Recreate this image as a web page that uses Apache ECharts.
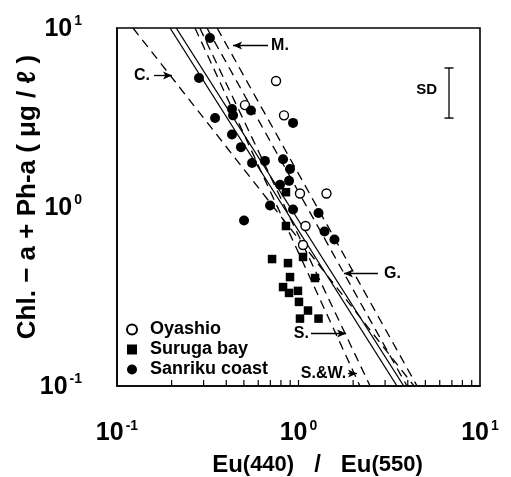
<!DOCTYPE html>
<html><head><meta charset="utf-8">
<script src="https://cdn.jsdelivr.net/npm/echarts@6/dist/echarts.min.js"></script>
<style>html,body{margin:0;padding:0;background:#fff}#c{width:511px;height:477px}</style>
</head><body><div id="c"></div>
<script>
// ---- data ----
const oyashio = [[0.752,5.06],[0.507,3.71],[0.832,3.25],[1.019,1.19],[1.426,1.19],[1.093,0.783],[1.059,0.613]];
const suruga = [[0.853,1.21],[0.853,0.783],[0.715,0.512],[0.875,0.486],[1.059,0.526],[0.898,0.406],[1.233,0.401],
  [0.822,0.357],[0.887,0.331],[0.993,0.340],[1.006,0.295],[1.128,0.264],[1.019,0.238],[1.289,0.238]];
const sanriku = [[0.325,8.79],[0.283,5.26],[0.347,3.14],[0.430,3.53],[0.436,3.25],[0.547,3.46],[0.933,2.95],
  [0.430,2.54],[0.482,2.16],[0.555,1.76],[0.653,1.81],[0.822,1.85],[0.898,1.63],[0.791,1.33],[0.887,1.40],
  [0.697,1.02],[0.933,0.968],[1.289,0.925],[0.501,0.841],[1.391,0.729],[1.578,0.658]];
// reference relations (two points each)
const lineC   = [[0.1225,10],[4.33,0.1]];
const lineM   = [[0.356,10],[4.50,0.1]];
const lineG   = [[0.313,10],[3.96,0.1]];
const lineS   = [[0.286,10],[2.48,0.1]];
const lineSW  = [[0.269,10],[2.18,0.1]];
const solidA  = [[0.196,10],[3.49,0.1]];
const solidB  = [[0.212,10],[3.80,0.1]];
// annotations
const annotText  = ['C.','M.','G.','S.','S.&W.'];
const annotAt    = [[0.152,5.43],[0.706,7.98],[2.96,0.425],[1.142,0.1965],[1.83,0.1174]];
const annotSide  = ['left','right','right','left','left'];
const arrowFrom  = [[0.160,5.43],[0.679,7.98],[2.74,0.425],[1.172,0.1965],[1.875,0.1174]];
const arrowTo    = [[0.201,5.43],[0.436,7.98],[1.78,0.425],[1.83,0.1965],[2.10,0.1174]];
const sdBar      = [[6.75,5.98],[6.75,3.14]];
const sdLabelAt  = [5.80,4.50];
const xMinorTicks = [0.2,0.3,0.4,0.5,0.6,0.7,0.8,0.9,1,2,3,4,5,6,7,8,9];
const decadeExp = {'0.1':'-1','1':'0','10':'1'};

const FONT = '"Liberation Sans", Arial, Helvetica, sans-serif';
const INK = '#000';
const chart = echarts.init(document.getElementById('c'));

function expLabel(v){
  const key = String(+v.toPrecision(3));
  const e = decadeExp[key] !== undefined ? decadeExp[key] : String(Math.round(Math.log10(v)));
  return '{b|10}{s|' + e + '}';
}
const tickRich = {
  b:{fontFamily:FONT,fontWeight:'bold',fontSize:25,color:INK,lineHeight:27,verticalAlign:'bottom',padding:[0,2,0,0]},
  s:{fontFamily:FONT,fontWeight:'bold',fontSize:14,color:INK,lineHeight:27,verticalAlign:'top'}
};
function refLine(name, pts, solid){
  return {type:'line', name:name, data:pts, symbol:'none', silent:true, z:1,
    lineStyle:{color:INK, width:1.3, type: solid ? 'solid' : [9,6], opacity:1}, animation:false};
}
const annotFont = {fontFamily:FONT, fontWeight:'bold', fontSize:16, color:INK};

const option = {
  animation:false,
  grid:{left:117, top:28, right:31, bottom:91, show:true, borderColor:INK, borderWidth:1.6,
    backgroundColor:'transparent', containLabel:false, outerBoundsMode:'none'},
  legend:{
    orient:'vertical', left:121, top:315, itemWidth:10, itemHeight:10, itemGap:1,
    data:['Oyashio','Suruga bay','Sanriku coast'],
    textStyle:{fontFamily:FONT, fontSize:18, fontWeight:'bold', color:INK, lineHeight:19, padding:[0,0,0,8]}, selectedMode:false
  },
  xAxis:{
    type:'log', logBase:10, min:0.1, max:10,
    name:'{e|Eu}{n|(440)}{e|   /   Eu}{n|(550)}', nameLocation:'middle', nameGap:67, nameMoveOverlap:false,
    nameTextStyle:{padding:[0,0,0,38], rich:{
      e:{fontFamily:FONT,fontWeight:'bold',fontSize:24,color:INK},
      n:{fontFamily:FONT,fontWeight:'bold',fontSize:22,color:INK}
    }},
    axisLine:{show:true,lineStyle:{color:INK,width:1.6}}, axisTick:{show:false}, splitLine:{show:false}, minorTick:{show:false},
    axisLabel:{formatter:expLabel, rich:tickRich, margin:33}
  },
  yAxis:{
    type:'log', logBase:10, min:0.1, max:10,
    name:'Chl. − a + Ph-a ( μg / ℓ )', nameLocation:'middle', nameRotate:90, nameGap:76, nameMoveOverlap:false,
    nameTextStyle:{fontFamily:FONT,fontWeight:'bold',fontSize:26,color:INK,padding:[0,0,0,20]},
    axisLine:{show:true,lineStyle:{color:INK,width:1.6}}, axisTick:{show:false}, splitLine:{show:false}, minorTick:{show:false},
    axisLabel:{formatter:expLabel, rich:tickRich, margin:35}
  },
  series:[
    refLine('C', lineC, false), refLine('M', lineM, false), refLine('G', lineG, false),
    refLine('S', lineS, false), refLine('SW', lineSW, false),
    refLine('solidA', solidA, true), refLine('solidB', solidB, true),
    {type:'scatter', name:'Oyashio', data:oyashio, symbol:'circle', symbolSize:9, z:5,
      itemStyle:{color:'#fff', borderColor:INK, borderWidth:1.4, opacity:1}},
    {type:'scatter', name:'Suruga bay', data:suruga, symbol:'rect', symbolSize:8.5, z:5,
      itemStyle:{color:INK, opacity:1}},
    {type:'scatter', name:'Sanriku coast', data:sanriku, symbol:'circle', symbolSize:10, z:5,
      itemStyle:{color:INK, opacity:1}},
    {type:'scatter', name:'minorTicks', data:xMinorTicks.map(v=>[v,0.1]), symbol:'rect', symbolSize:[1.2,6],
      symbolOffset:[0,-3], clip:false, silent:true, itemStyle:{color:INK, opacity:1}, z:6},
    {type:'scatter', name:'annot', silent:true, clip:false, symbolSize:0, z:7, itemStyle:{opacity:1},
      data: annotText.map((t,i)=>({value:annotAt[i], label:Object.assign({show:true, formatter:t, position:annotSide[i], distance:0}, annotFont)})),
      markLine:{silent:true, symbol:['none','arrow'], symbolSize:[6,9], label:{show:false},
        lineStyle:{color:INK, width:1.3, type:'solid', opacity:1}, itemStyle:{color:INK}, animation:false,
        data: arrowFrom.map((p,i)=>[{coord:p},{coord:arrowTo[i]}])}
    },
    {type:'line', name:'SD', data:sdBar, symbol:'rect', symbolSize:[9,1.4], silent:true, z:7,
      lineStyle:{color:INK,width:1.3}, itemStyle:{color:INK, opacity:1}},
    {type:'scatter', name:'SDlabel', itemStyle:{opacity:1}, data:[{value:sdLabelAt, label:{show:true, formatter:'SD', position:'left', distance:0,
      fontFamily:FONT, fontSize:15, fontWeight:'bold', color:INK}}], symbolSize:0, silent:true}
  ]
};
chart.setOption(option);
</script></body></html>
